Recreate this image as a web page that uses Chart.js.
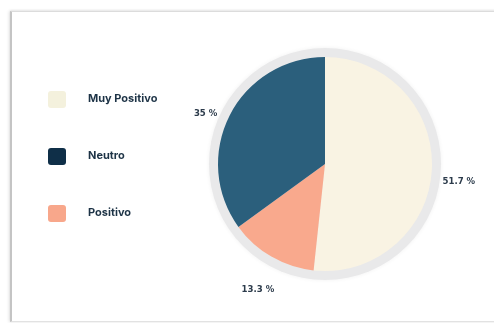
<!DOCTYPE html>
<html>
<head>
<meta charset="utf-8">
<script src="https://cdn.jsdelivr.net/npm/chart.js@4"></script>
<style>
  html, body { margin: 0; padding: 0; background: #ffffff; }
  body { width: 494px; height: 323px; position: relative; overflow: hidden; }
  #card {
    position: absolute; left: 10px; top: 11px; width: 500px; height: 309px;
    border-top: 1px solid #dcdcdc; border-left: 2px solid #c4c4c4; border-bottom: 1px solid #e2e2e2;
    box-shadow: -1px 0 3px rgba(0,0,0,0.12), 0 -1px 2px rgba(0,0,0,0.05);
    background: #fff;
  }
  #wrap { position: absolute; left: 0; top: 0; width: 494px; height: 323px; }
</style>
</head>
<body>
<div id="card"></div>
<div id="wrap"><canvas id="c" width="494" height="323"></canvas></div>
<script>
// ---- data ----
const categories = ['Muy Positivo', 'Positivo', 'Neutro'];
const values = [51.7, 13.3, 35];
const sliceColors = ['#f9f3e3', '#f9a98d', '#2b5f7c'];
const legendOrder = ['Muy Positivo', 'Neutro', 'Positivo'];
const legendColors = { 'Muy Positivo': '#f4f1dd', 'Neutro': '#0f2f48', 'Positivo': '#f8a78b' };
const valueLabels = values.map(v => v + ' %');

const ringPlugin = {
  id: 'ring',
  beforeDatasetsDraw(chart) {
    const arc = chart.getDatasetMeta(0).data[0];
    if (!arc) return;
    const { x, y, outerRadius } = arc.getProps(['x', 'y', 'outerRadius'], true);
    const ctx = chart.ctx;
    ctx.save();
    ctx.beginPath();
    ctx.arc(x, y, outerRadius + 9, 0, Math.PI * 2);
    ctx.fillStyle = '#e9e9ea';
    ctx.shadowColor = 'rgba(0,0,0,0.06)';
    ctx.shadowBlur = 4;
    ctx.fill();
    ctx.restore();
  }
};

const labelPlugin = {
  id: 'valueLabels',
  afterDatasetsDraw(chart) {
    const ctx = chart.ctx;
    const meta = chart.getDatasetMeta(0);
    ctx.save();
    ctx.font = 'bold 9.5px "DejaVu Sans Condensed", "DejaVu Sans", sans-serif';
    ctx.fillStyle = '#2c3b4b';
    ctx.textAlign = 'center';
    ctx.textBaseline = 'middle';
    meta.data.forEach((arc, i) => {
      const p = arc.getProps(['x', 'y', 'startAngle', 'endAngle', 'outerRadius'], true);
      const mid = (p.startAngle + p.endAngle) / 2;
      const r = p.outerRadius + 27;
      ctx.fillText(valueLabels[i], p.x + Math.cos(mid) * r, p.y + Math.sin(mid) * r + 10);
    });
    ctx.restore();
  }
};

const legendPlugin = {
  id: 'customLegend',
  afterDraw(chart) {
    const ctx = chart.ctx;
    ctx.save();
    ctx.font = 'bold 11px Inter, "Open Sans", sans-serif';
    ctx.textBaseline = 'middle';
    ctx.textAlign = 'left';
    legendOrder.forEach((name, i) => {
      const cy = 99 + i * 57;
      ctx.fillStyle = legendColors[name];
      ctx.beginPath();
      ctx.roundRect(48, cy - 8, 18, 17, 3);
      ctx.fill();
      ctx.fillStyle = '#1d3346';
      ctx.fillText(name, 88, cy);
    });
    ctx.restore();
  }
};

new Chart(document.getElementById('c'), {
  type: 'pie',
  data: {
    labels: categories,
    datasets: [{
      data: values,
      backgroundColor: sliceColors,
      borderWidth: 0,
      radius: 107
    }]
  },
  options: {
    responsive: false,
    animation: false,
    layout: { padding: { left: 170, right: 14, top: 37, bottom: 32 } },
    plugins: {
      legend: { display: false },
      tooltip: { enabled: false }
    }
  },
  plugins: [ringPlugin, labelPlugin, legendPlugin]
});
</script>
</body>
</html>
